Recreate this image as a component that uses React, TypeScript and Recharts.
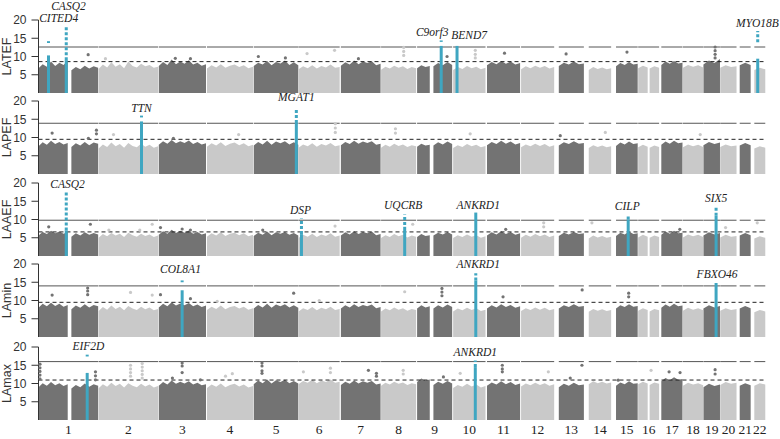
import React from 'react';
import { ComposedChart, Area, Scatter, XAxis, YAxis, ReferenceLine, ReferenceDot } from 'recharts';

// ---------- genome layout (cumulative Mb) ----------
const CHROMS = ['1','2','3','4','5','6','7','8','9','10','11','12','13','14','15','16','17','18','19','20','21','22'];
const SEG_CHROM = [1,1,2,3,4,5,6,7,8,9,9,10,11,12,13,14,15,16,16,17,18,19,20,21,22];
const SEG_START = [0,135,247,494,692,884,1068,1242,1407,1555,1622,1703,1842,1982,2137,2260,2372,2463,2510,2558,2647,2731,2800,2880,2940];
const SEG_END = [120,245,491,688,881,1067,1237,1405,1551,1607,1699,1836,1978,2118,2240,2352,2461,2502,2549,2645,2730,2799,2867,2925,2985];
const X_MAX = 2988;

const PANEL_NAMES = ['LATEF', 'LAPEF', 'LAAEF', 'LAmin', 'LAmax'];
const SOLID_THRESH = [12.6, 13.9, 9.8, 14.0, 16.0];
const DASHED_THRESH = [8.6, 9.5, 6.6, 9.5, 10.95];

// ---------- mass tops per segment ----------
const LATEF_TOPS = [
  [6.8,7.9,7.2,8.6,7.4,8.3,7.7,8.9],[6.2,7.1,6.5,7.5,6.7,7.3,6.9],
  [6.6,7.8,7.0,8.4,7.2,7.9,6.8,8.6,7.4,7.0,8.0,7.3,7.7,6.9,7.2],
  [7.4,8.5,7.7,9.2,7.9,8.6,8.0,9.0,7.8,8.3,7.5,7.9],[6.7,7.6,7.0,7.9,6.9,7.5,7.8,7.1,7.6,6.8,7.2],
  [7.4,8.3,7.8,8.8,7.6,8.5,8.1,8.9,7.7,8.4,7.6],[6.5,7.3,6.8,7.6,6.7,7.4,7.0,7.8,6.9,7.1],
  [7.5,8.4,7.8,8.9,7.9,8.6,8.2,8.7,7.6,8.0],[6.4,7.2,6.7,7.5,6.9,7.3,6.6,7.1,6.8],
  [6.8,7.6,7.1,7.4],[7.3,8.2,7.6,8.5,7.7],[6.3,7.1,6.6,7.4,6.8,7.2,6.5,6.9],[7.6,8.5,7.9,8.8,8.0,8.6,7.8,8.2],
  [6.5,7.3,6.8,7.5,6.9,7.4,6.7,7.1],[7.4,8.3,7.8,8.6,7.9,8.1],[6.3,7.1,6.6,7.0,6.5,6.8],[7.3,8.2,7.7,8.5,7.8,8.0],
  [6.8,7.5,7.0],[6.7,7.3,6.9],[7.7,8.6,8.0,8.8,8.1,8.3],[6.9,7.7,7.2,7.6,7.0],[7.8,8.9,8.2,9.3],[6.9,7.6,7.1,7.3],
  [7.6,8.3,7.7],[6.3,6.9,6.5],
];
const LAPEF_TOPS = [
  [7.6,8.7,8.0,9.1,8.2,8.8,8.1,8.5],[7.4,8.4,7.8,8.8,7.9,8.6,8.3],
  [7.0,8.1,7.4,8.6,7.6,8.2,7.2,8.5,7.7,7.3,8.3,7.5,8.0,7.2,7.6],
  [8.0,9.0,8.3,9.3,8.4,9.0,8.5,9.2,8.2,8.8,8.1,8.4],[7.5,8.4,7.8,8.7,7.7,8.3,8.6,7.9,8.4,7.6,8.0],
  [7.8,8.8,8.1,9.1,8.0,8.9,8.4,9.0,8.1,8.7,8.0],[7.2,8.1,7.6,8.4,7.5,8.2,7.8,8.5,7.6,7.9],
  [7.9,8.8,8.2,9.1,8.3,8.9,8.5,9.0,8.0,8.3],[7.2,8.0,7.5,8.3,7.7,8.1,7.4,7.9,7.6],
  [7.5,8.3,7.8,8.0],[7.8,8.7,8.1,8.9,8.2],[7.1,7.9,7.4,8.2,7.6,8.0,7.3,7.7],[7.9,8.8,8.2,9.1,8.3,8.9,8.1,8.5],
  [7.3,8.1,7.6,8.3,7.7,8.2,7.5,7.9],[7.8,8.7,8.2,9.0,8.3,8.5],[7.1,7.9,7.4,7.8,7.3,7.6],[7.7,8.6,8.1,8.9,8.2,8.4],
  [7.3,8.0,7.5],[7.2,7.8,7.4],[8.0,8.9,8.3,9.1,8.4,8.6],[7.3,8.1,7.6,8.0,7.4],[7.9,8.8,8.2,8.6],[7.4,8.1,7.6,7.8],
  [7.8,8.5,7.9],[7.0,7.6,7.2],
];
const LAAEF_TOPS = [
  [5.6,6.6,6.0,6.9,6.2,6.7,6.1,6.5],[5.3,6.2,5.6,6.5,5.8,6.3,5.9],
  [5.0,6.0,5.4,6.3,5.6,6.1,5.2,6.4,5.7,5.3,6.1,5.5,5.9,5.2,5.6],
  [5.8,6.8,6.1,7.2,6.3,6.9,6.4,7.0,6.1,6.6,5.9,6.2],[5.3,6.2,5.6,6.5,5.5,6.1,6.4,5.7,6.2,5.4,5.8],
  [5.5,6.4,5.8,6.7,5.7,6.5,6.1,6.6,5.8,6.3,5.6],[4.9,5.8,5.3,6.1,5.2,5.9,5.5,6.2,5.3,5.6],
  [5.6,6.5,5.9,6.8,6.0,6.6,6.2,6.7,5.7,6.0],[4.9,5.7,5.2,6.0,5.4,5.8,5.1,5.6,5.3],
  [5.2,6.0,5.5,5.7],[5.6,6.4,5.9,6.6,5.9],[4.9,5.7,5.2,5.9,5.3,5.7,5.0,5.4],[5.6,6.5,5.9,6.8,6.0,6.6,5.8,6.2],
  [5.0,5.8,5.3,6.0,5.4,5.9,5.2,5.6],[5.5,6.4,5.9,6.6,6.0,6.2],[4.8,5.6,5.1,5.5,5.0,5.3],[5.5,6.4,5.9,6.7,6.0,6.2],
  [5.1,5.8,5.3],[5.0,5.6,5.2],[5.8,6.7,6.1,6.9,6.2,6.4],[5.1,5.9,5.4,5.8,5.2],[5.6,6.5,5.9,6.3],[5.1,5.8,5.3,5.5],
  [5.6,6.3,5.7],[4.8,5.4,5.0],
];
const LAMIN_TOPS = [
  [8.0,9.1,8.4,9.4,8.5,9.1,8.3,8.8],[7.6,8.6,8.0,9.0,8.1,8.8,8.4],
  [7.1,8.2,7.5,8.6,7.7,8.3,7.3,8.5,7.8,7.4,8.3,7.6,8.1,7.3,7.7],
  [8.1,9.1,8.4,9.5,8.6,9.2,8.7,9.3,8.4,8.9,8.2,8.6],[7.4,8.3,7.7,8.6,7.6,8.2,8.5,7.8,8.3,7.5,7.9],
  [7.8,8.8,8.1,9.1,8.0,8.9,8.4,9.0,8.1,8.7,8.0],[7.0,7.9,7.4,8.2,7.3,8.0,7.6,8.3,7.4,7.7],
  [7.8,8.7,8.1,9.0,8.2,8.8,8.4,8.9,7.9,8.2],[7.0,7.8,7.3,8.1,7.5,7.9,7.2,7.7,7.4],
  [7.8,8.7,8.1,8.4],[7.8,8.7,8.1,8.9,8.2],[7.0,7.8,7.3,8.0,7.4,7.9,7.1,7.5],[7.8,8.7,8.1,9.0,8.2,8.8,8.0,8.4],
  [7.1,7.9,7.4,8.1,7.5,8.0,7.3,7.7],[7.8,8.7,8.2,9.0,8.3,8.5],[6.9,7.7,7.2,7.6,7.1,7.4],[7.8,8.7,8.2,9.0,8.3,8.5],
  [7.2,7.9,7.4],[7.0,7.7,7.3],[8.0,8.9,8.3,9.1,8.4,8.6],[7.2,8.0,7.5,7.9,7.3],[7.8,8.7,8.1,8.5],[7.2,7.9,7.4,7.7],
  [7.8,8.5,7.9],[6.8,7.4,7.0],
];
const LAMAX_TOPS = [
  [9.0,10.1,9.4,10.4,9.5,10.1,9.3,9.8],[8.6,9.6,9.0,10.0,9.1,9.8,9.4],
  [8.7,9.8,9.1,10.2,9.3,9.9,8.9,10.1,9.4,9.0,9.9,9.2,9.7,8.9,9.3],
  [9.4,10.4,9.7,10.8,9.9,10.5,10.0,10.6,9.7,10.2,9.5,9.8],[8.8,9.7,9.1,10.0,9.0,9.6,9.9,9.2,9.7,8.9,9.3],
  [9.8,10.8,10.1,11.1,10.0,10.9,10.4,11.0,10.1,10.7,10.0],[9.8,10.7,10.2,11.0,10.1,10.8,10.4,11.1,10.2,10.5],
  [9.6,10.5,9.9,10.8,10.0,10.6,10.2,10.7,9.7,10.0],[9.4,10.2,9.7,10.5,9.9,10.3,9.6,10.1,9.8],
  [10.4,11.4,10.8,11.1],[9.6,10.5,9.9,10.7,10.0],[8.8,9.6,9.1,9.9,9.2,9.7,8.9,9.3],[9.4,10.3,9.7,10.6,9.8,10.4,9.6,10.0],
  [9.2,10.0,9.5,10.2,9.6,10.1,9.4,9.8],[9.0,9.9,9.4,10.2,9.5,9.7],[9.8,10.6,10.1,10.5,10.0,10.3],[9.4,10.3,9.8,10.6,9.9,10.1],
  [9.8,10.5,10.0],[9.6,10.3,9.9],[10.6,11.5,10.9,11.7,11.0,11.2],[9.4,10.2,9.7,10.1,9.5],[9.0,9.9,9.3,9.7],[9.6,10.4,9.9,10.2],
  [9.4,10.1,9.5],[9.4,10.1,9.7],
];

// ---------- isolated points above the mass [position, -log10 p] ----------
const LATEF_DOTS = [
  [204,10.5],[275,9.4],[562,9.5],[624,9.4],[903,10.0],[1014,9.6],[1103,10.8],[1216,11.7],[1314,9.4],
  [1500,12.5],[1500,11.4],[1500,10.3],[1678,10.0],[1794,11.7],[1794,10.6],[1794,9.6],[1914,10.9],[2167,10.7],
  [2417,11.2],[2779,12.6],[2779,11.6],[2779,10.6],[2779,9.6],
];
const LAPEF_DOTS = [
  [56,11.2],[205,9.8],[238,12.0],[238,11.0],[308,10.8],[554,9.8],[822,10.8],[1219,13.8],[1219,12.6],[1219,11.4],
  [1466,12.4],[1466,11.2],[1773,11.0],[2143,10.5],[2328,11.4],[2718,10.8],
];
const LAAEF_DOTS = [
  [42,8.0],[213,8.7],[289,7.1],[416,7.1],[467,8.7],[501,7.8],[590,7.4],[624,7.1],[921,7.1],[1218,8.2],[1537,8.7],
  [1919,7.3],[2075,9.1],[2075,8.0],[2273,9.1],[2634,7.3],[2822,7.8],[2952,9.1],
];
const LAMIN_DOTS = [
  [56,11.5],[202,13.4],[202,12.6],[202,11.6],[378,12.2],[467,11.5],[501,11.6],[624,10.5],[734,9.8],[1048,12.0],
  [1153,10.0],[1504,12.4],[1657,13.3],[1657,12.3],[1657,11.3],[1908,11.0],[2233,12.9],[2424,12.0],[2424,11.0],
];
const LAMAX_DOTS = [
  [6,15.3],[6,14.3],[6,13.3],[6,12.3],[6,11.3],[234,13.2],[234,12.1],[234,11.0],
  [378,15.0],[378,14.0],[378,13.0],[378,12.0],[426,15.5],[426,14.5],[426,13.5],[426,12.5],[426,11.5],
  [590,15.6],[590,14.8],[590,13.0],[550,11.5],[665,11.0],[796,12.7],[768,12.0],
  [918,15.6],[918,14.8],[918,13.5],[918,12.8],[1088,13.2],[1199,14.2],[1199,13.0],[1355,13.6],[1388,12.8],[1388,12.0],
  [1498,13.6],[1498,12.6],[1663,11.8],[1732,12.8],[1905,15.0],[1905,14.0],[1905,13.2],[2094,13.2],[2232,15.0],
  [2184,11.5],[2381,10.9],[2516,13.6],[2590,13.2],[2635,13.0],[2779,13.8],[2779,12.6],
];

// ---------- highlighted loci [position, solid top, dotted from, peak] ----------
const LATEF_HITS = [[41,10.3,13.7,14.2],[114,9.0,9.0,18.3],[1654,12.9,14.0,14.4],[1719,12.9,null,null],[2954,9.4,13.9,17.0]];
const LAPEF_HITS = [[423,14.4,15.5,16.0],[1059,14.0,14.0,17.6]];
const LAAEF_HITS = [[114,7.0,7.0,17.8],[1080,6.0,6.0,10.3],[1504,8.0,8.5,11.4],[1796,11.9,null,null],[2422,10.0,10.0,11.4],[2783,11.0,11.0,13.4]];
const LAMIN_HITS = [[590,12.8,15.0,15.5],[1796,15.5,15.5,17.5],[2783,14.8,null,null]];
const LAMAX_HITS = [[200,12.9,17.4,17.9],[1794,14.5,14.5,16.3]];

// ---------- gene labels ----------
const LATEF_GENES = [['CASQ2',123,23.9],['CITED4',83,20.5],['C9orf3',1617,16.7],['BEND7',1769,15.8],['MYO18B',2953,19.1]];
const LAPEF_GENES = [['TTN',423,18.0],['MGAT1',1059,21.1]];
const LAAEF_GENES = [['CASQ2',119,19.6],['DSP',1076,12.5],['UQCRB',1498,13.9],['ANKRD1',1806,13.9],['CILP',2418,13.6],['SIX5',2783,15.8]];
const LAMIN_GENES = [['COL8A1',583,18.5],['ANKRD1',1806,20.0],['FBXO46',2787,17.2]];
const LAMAX_GENES = [['EIF2D',205,20.3],['ANKRD1',1794,18.7]];

const Y_TICKS = [5, 10, 15, 20];

const ALL_TOPS = [LATEF_TOPS, LAPEF_TOPS, LAAEF_TOPS, LAMIN_TOPS, LAMAX_TOPS];
const ALL_DOTS = [LATEF_DOTS, LAPEF_DOTS, LAAEF_DOTS, LAMIN_DOTS, LAMAX_DOTS];
const ALL_HITS = [LATEF_HITS, LAPEF_HITS, LAAEF_HITS, LAMIN_HITS, LAMAX_HITS];
const ALL_GENES = [LATEF_GENES, LAPEF_GENES, LAAEF_GENES, LAMIN_GENES, LAMAX_GENES];

// ---------- styles ----------
const DARK = '#737373';
const LIGHT = '#c9c9c9';
const BLUE = '#3fa6c1';
const SERIF = "'Liberation Serif', 'Times New Roman', serif";
const SANS = "'Liberation Sans', Arial, sans-serif";
const PANEL_TOP = [20, 101, 182.5, 264, 346.5];
const PLOT_H = 73;
const MT = 22;

const CHROM_RANGE = CHROMS.map((_, ci) => {
  const idx = SEG_CHROM.map((c, i) => (c === ci + 1 ? i : -1)).filter((i) => i >= 0);
  return [SEG_START[idx[0]], SEG_END[idx[idx.length - 1]]];
});
const CENTERS = CHROM_RANGE.map(([s, e]) => (s + e) / 2);

function chromOf(x: number) {
  for (let i = 0; i < CHROM_RANGE.length; i++) {
    if (x >= CHROM_RANGE[i][0] - 2 && x <= CHROM_RANGE[i][1] + 2) return i + 1;
  }
  return 1;
}

function buildRows(tops: number[][]) {
  const rows: any[] = [];
  tops.forEach((hs, i) => {
    const dark = SEG_CHROM[i] % 2 === 1;
    const s = SEG_START[i];
    const e = SEG_END[i];
    if (i > 0) rows.push({ x: (SEG_END[i - 1] + s) / 2, d: null, l: null });
    hs.forEach((h, j) => {
      const x = s + ((e - s) * j) / (hs.length - 1);
      rows.push(dark ? { x, d: h, l: null } : { x, d: null, l: h });
    });
  });
  return rows;
}

const XTick = (p: any) => (
  <text x={p.x} y={p.y} dy="0.71em" textAnchor="middle" style={{ fontFamily: SERIF, fontSize: 13.5 }} fill="#222">
    {CHROMS[p.index]}
  </text>
);

function Panel({ idx }: { idx: number }) {
  const last = idx === 4;
  const rows = buildRows(ALL_TOPS[idx]);
  const dots = ALL_DOTS[idx].map(([x, y]) => ({ x, y, fill: chromOf(x) % 2 === 1 ? DARK : LIGHT }));
  const H = MT + PLOT_H + (last ? 20 : 2);
  const name = PANEL_NAMES[idx];
  return (
    <div style={{ position: 'absolute', left: 0, top: PANEL_TOP[idx] - MT }}>
      <ComposedChart width={780} height={H} data={rows} margin={{ top: MT, right: 14, bottom: last ? 0 : 2, left: 0 }}>
        <XAxis
          type="number"
          dataKey="x"
          domain={[0, X_MAX]}
          ticks={CENTERS}
          interval={0}
          hide={!last}
          axisLine={false}
          tickLine={false}
          tickSize={0}
          tickMargin={4}
          height={20}
          tick={<XTick />}
        />
        <YAxis
          type="number"
          domain={[0, 20]}
          ticks={Y_TICKS}
          interval={0}
          width={38.5}
          tickSize={7}
          tickMargin={5}
          axisLine={{ stroke: '#333' }}
          tickLine={{ stroke: '#333' }}
          tick={{ fontSize: 12, fill: '#333', fontFamily: SANS }}
          label={(p: any) => {
            const vb = p.viewBox || { y: MT, height: PLOT_H };
            const cy = vb.y + vb.height / 2;
            return (
              <text
                x={7}
                y={cy}
                transform={`rotate(-90, 7, ${cy})`}
                textAnchor="middle"
                dominantBaseline="central"
                fontSize={12.5}
                fill="#333"
                fontFamily={SANS}
              >
                {name}
              </text>
            );
          }}
        />
        <Area type="linear" dataKey="d" stroke="none" fill={DARK} fillOpacity={1} isAnimationActive={false} dot={false} activeDot={false} connectNulls={false} />
        <Area type="linear" dataKey="l" stroke="none" fill={LIGHT} fillOpacity={1} isAnimationActive={false} dot={false} activeDot={false} connectNulls={false} />
        {CHROM_RANGE.map(([s, e], i) => (
          <ReferenceLine
            key={'t' + i}
            segment={[{ x: s, y: SOLID_THRESH[idx] }, { x: e, y: SOLID_THRESH[idx] }]}
            stroke="#555"
            strokeWidth={1}
            ifOverflow="visible"
          />
        ))}
        <ReferenceLine y={DASHED_THRESH[idx]} stroke="#222" strokeWidth={1} strokeDasharray="4 3" />
        <Scatter
          data={dots}
          dataKey="y"
          isAnimationActive={false}
          shape={(p: any) => <circle cx={p.cx} cy={p.cy} r={1.6} fill={p.payload.fill} />}
        />
        {ALL_HITS[idx].map(([x, top], i) => (
          <ReferenceLine
            key={'hs' + i}
            segment={[{ x, y: 0 }, { x, y: top as number }]}
            stroke={BLUE}
            strokeWidth={3}
            ifOverflow="visible"
          />
        ))}
        {ALL_HITS[idx]
          .filter((h) => h[2] != null)
          .map(([x, , from, peak], i) => (
            <ReferenceLine
              key={'hd' + i}
              segment={[{ x, y: from as number }, { x, y: peak as number }]}
              stroke={BLUE}
              strokeWidth={3}
              strokeDasharray="3 2"
              ifOverflow="visible"
            />
          ))}
        {ALL_GENES[idx].map(([g, x, y], i) => (
          <ReferenceDot
            key={'g' + i}
            x={x as number}
            y={y as number}
            r={0}
            ifOverflow="visible"
            shape={(p: any) => (
              <text
                x={p.cx}
                y={p.cy}
                textAnchor="middle"
                dominantBaseline="central"
                style={{ fontFamily: SERIF, fontStyle: 'italic', fontSize: 11.5 }}
                fill="#222"
              >
                {g as string}
              </text>
            )}
          />
        ))}
      </ComposedChart>
    </div>
  );
}

export default function App() {
  return (
    <div style={{ position: 'absolute', left: 0, top: 0, width: 780, height: 439, background: '#fff', overflow: 'hidden' }}>
      {[0, 1, 2, 3, 4].map((i) => (
        <Panel key={i} idx={i} />
      ))}
    </div>
  );
}
